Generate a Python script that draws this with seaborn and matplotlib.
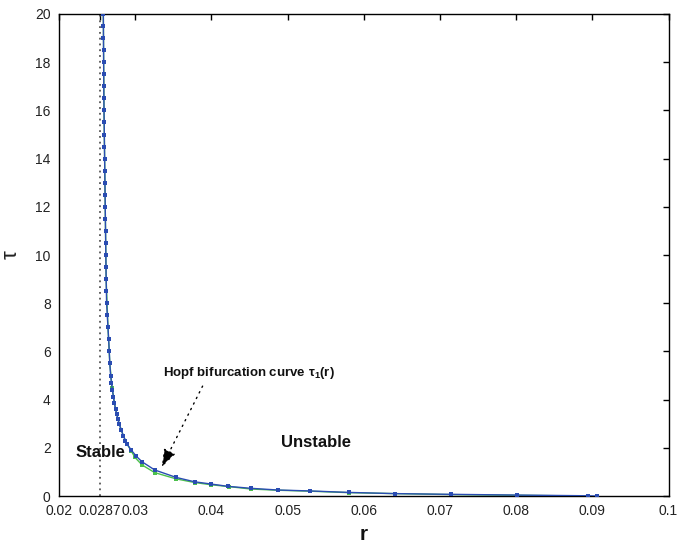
import matplotlib
matplotlib.use("Agg")
import matplotlib.pyplot as plt
import seaborn as sns
import pandas as pd

# ---- data ----
blue_tau = [20.0, 19.5, 19.0, 18.5, 18.0, 17.5, 17.0, 16.5, 16.0, 15.5, 15.0, 14.5,
            14.0, 13.5, 13.0, 12.5, 12.0, 11.5, 11.0, 10.5, 10.0, 9.5, 9.0, 8.5,
            8.0, 7.5, 7.0, 6.5, 6.0, 5.5, 5.0, 4.7, 4.4, 4.1, 3.85, 3.6, 3.4, 3.2,
            3.0, 2.75, 2.5, 2.3, 2.15, 1.9, 1.65, 1.42, 1.08, 0.77, 0.59, 0.50,
            0.40, 0.32, 0.25, 0.21, 0.15, 0.10, 0.07, 0.04, 0.01, 0.0]
blue_r = [0.02582, 0.02583, 0.02584, 0.02585, 0.02586, 0.02587, 0.02588, 0.02589,
          0.02591, 0.02593, 0.02595, 0.02597, 0.02599, 0.02601, 0.02603, 0.02605,
          0.02607, 0.02609, 0.02611, 0.02613, 0.02615, 0.02617, 0.02619, 0.02622,
          0.02625, 0.02634, 0.02643, 0.02652, 0.02660, 0.02667, 0.02678, 0.02688,
          0.02702, 0.02714, 0.02727, 0.02743, 0.02757, 0.02772, 0.02790, 0.02815,
          0.02845, 0.02872, 0.02895, 0.02950, 0.03015, 0.0309, 0.03257, 0.0354,
          0.0378, 0.0399, 0.0422, 0.0452, 0.0487, 0.0530, 0.0580, 0.0641, 0.0714,
          0.0801, 0.0894, 0.0906]

green_tau = [20.0, 16.0, 12.0, 9.0, 7.0, 5.5, 4.5, 3.6, 3.0, 2.5, 2.15, 1.86, 1.61,
             1.29, 0.97, 0.71, 0.56, 0.47, 0.39, 0.29, 0.24, 0.20, 0.14, 0.10,
             0.06, 0.03, 0.0]
green_r = [0.02582, 0.02591, 0.02607, 0.02619, 0.02643, 0.02667, 0.02697, 0.02743,
           0.02790, 0.02845, 0.02895, 0.02950, 0.02995, 0.0309, 0.03257, 0.0354,
           0.0378, 0.0399, 0.0423, 0.0452, 0.0487, 0.0530, 0.0580, 0.0641, 0.0714,
           0.0801, 0.0894]

xtick_vals = [0.02, 0.02537, 0.03, 0.04, 0.05, 0.06, 0.07, 0.08, 0.09, 0.1]
xtick_labels = ["0.02", "0.0287", "0.03", "0.04", "0.05", "0.06", "0.07", "0.08", "0.09", "0.1"]
ytick_vals = [0, 2, 4, 6, 8, 10, 12, 14, 16, 18, 20]
critical_r = 0.02537

sns.set_theme(style="white")
plt.rcParams['font.family'] = ['Liberation Sans', 'DejaVu Sans']
plt.rcParams['mathtext.fontset'] = 'custom'
plt.rcParams['mathtext.rm'] = 'Liberation Sans:bold'
plt.rcParams['mathtext.default'] = 'rm'

fig = plt.figure(figsize=(6.78, 5.49), dpi=100)
ax = fig.add_axes([0.087, 0.0965, 0.899, 0.878])

blue_df = pd.DataFrame({"r": blue_r, "tau": blue_tau})
green_df = pd.DataFrame({"r": green_r, "tau": green_tau})

ax.plot([critical_r, critical_r], [0, 20], color="#555555", lw=1.3,
        linestyle=(0, (1, 2.2)), zorder=1)

sns.lineplot(data=green_df, x="r", y="tau", sort=False, estimator=None, ax=ax,
             color="#4cc04c", marker="s", markersize=2.2, markeredgewidth=0,
             linewidth=1.0, zorder=2)
sns.lineplot(data=blue_df, x="r", y="tau", sort=False, estimator=None, ax=ax,
             color="#2a4cb2", marker="s", markersize=2.4, markeredgewidth=0,
             linewidth=1.0, zorder=3)

ax.set_xlim(0.02, 0.1)
ax.set_ylim(0, 20)
ax.set_xticks(xtick_vals)
ax.set_xticklabels(xtick_labels)
ax.set_yticks(ytick_vals)
ax.tick_params(direction="in", length=4, width=1, color="black", labelsize=10,
               labelcolor="#222222", top=True, right=True, pad=6)
for s in ax.spines.values():
    s.set_color("black")
    s.set_linewidth(1.0)

ax.set_xlabel("r", fontsize=15, fontweight="bold", labelpad=5, color="#111111")
ax.set_ylabel("τ", fontsize=16, labelpad=10, color="#222222")

ax.text(0.0255, 1.8, "Stable", fontsize=12, fontweight="bold", ha="center",
        va="center", zorder=5, color="#111111")
ax.text(0.0537, 2.2, "Unstable", fontsize=12, fontweight="bold", ha="center",
        va="center", zorder=5, color="#111111")
ax.text(0.0336, 5.1, "Hopf bifurcation curve τ$_1$(r)", fontsize=9.5,
        fontweight="bold", ha="left", va="center", zorder=5, color="#111111")
ax.annotate("", xy=(0.03348, 1.2), xytext=(0.03885, 4.56),
            arrowprops=dict(arrowstyle="-|>,head_length=0.9,head_width=0.32",
                            color="black", lw=1.0, linestyle=(0, (1, 3.5)),
                            shrinkA=0, shrinkB=0))

fig.savefig("out.png", dpi=100)
